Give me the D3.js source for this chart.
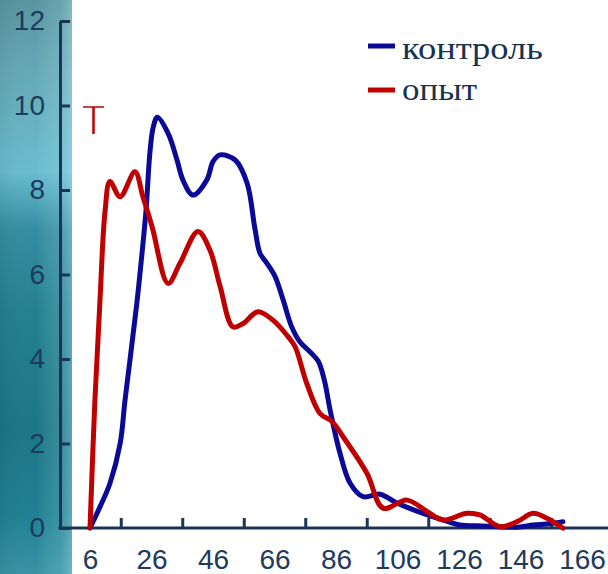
<!DOCTYPE html>
<html><head><meta charset="utf-8">
<script src="https://cdn.jsdelivr.net/npm/d3@7"></script>
<style>html,body{margin:0;padding:0;background:#fff;}svg{display:block;}</style>
</head><body>
<svg id="c" width="608" height="574"></svg>
<script>
// Data
const seriesNames = ["контроль", "опыт"];
const controlX = [6, 9.25, 12.5, 15.8, 17.4, 21.2, 22.8, 24.2, 25.5, 26.6, 27.9, 31.4, 34.3, 36.2, 39.5, 44.0, 46.0, 48.3, 53.2, 57.1, 59.6, 61.3, 63.5, 66.2, 68.8, 71.6, 74.3, 77.5, 80.2, 82.2, 84.2, 87.3, 90.6, 94.8, 100.3, 105.8, 112.3, 120.8, 126.3, 133.8, 144.9, 150.1, 155.6, 159.8];
const controlY = [0, 0.5, 1.06, 2.0, 3.03, 5.3, 6.42, 7.5, 8.9, 9.5, 9.72, 9.34, 8.71, 8.24, 7.88, 8.24, 8.67, 8.83, 8.71, 8.16, 7.1, 6.5, 6.27, 5.95, 5.4, 4.76, 4.4, 4.17, 3.95, 3.5, 2.75, 1.77, 1.06, 0.74, 0.8, 0.59, 0.4, 0.19, 0.07, 0.05, 0.02, 0.07, 0.1, 0.15];
const experimentX = [6, 7.6, 9.25, 10.9, 12.5, 15.8, 20.6, 23.2, 26.2, 31.4, 35.3, 41.1, 45.0, 48.3, 52.5, 55.8, 60.6, 65.5, 70.4, 72.7, 76.5, 80.8, 84.7, 88.3, 96.1, 101.3, 109.1, 115.6, 120.8, 128.6, 132.8, 139.3, 144.9, 150.1, 154.6, 159.8];
const experimentY = [0, 3.03, 5.4, 7.5, 8.2, 7.84, 8.43, 7.84, 7.13, 5.79, 6.27, 7.02, 6.58, 5.72, 4.76, 4.84, 5.12, 4.92, 4.53, 4.29, 3.42, 2.71, 2.52, 2.16, 1.29, 0.47, 0.66, 0.39, 0.19, 0.35, 0.31, 0.03, 0.15, 0.35, 0.23, 0];
const xLabels = [6, 26, 46, 66, 86, 106, 126, 146, 166];
const xTicks = [16, 36, 56, 76, 96, 116, 136, 156];
const yTicks = [0, 2, 4, 6, 8, 10, 12];
const colors = ["#0a0a96", "#c00000"];

const svg = d3.select("#c");
const defs = svg.append("defs");
const g1 = defs.append("linearGradient").attr("id","bgv").attr("x1",0).attr("y1",0).attr("x2",0).attr("y2",1);
[[0,"#57949f"],[0.12,"#64a8b6"],[0.3,"#68bccf"],[0.4,"#358d9f"],[0.55,"#22808f"],[0.75,"#1b7685"],[0.9,"#1f8192"],[1,"#3793a3"]]
  .forEach(([o,c])=>g1.append("stop").attr("offset",o).attr("stop-color",c));
const g2 = defs.append("linearGradient").attr("id","bgh").attr("x1",0).attr("y1",0).attr("x2",1).attr("y2",0);
[[0,"#000000",0.05],[0.5,"#ffffff",0.0],[0.85,"#bfeaf2",0.18],[1,"#d8f4f8",0.35]]
  .forEach(([o,c,a])=>g2.append("stop").attr("offset",o).attr("stop-color",c).attr("stop-opacity",a));

svg.append("rect").attr("x",0).attr("y",0).attr("width",72).attr("height",574).attr("fill","url(#bgv)");
svg.append("rect").attr("x",0).attr("y",0).attr("width",72).attr("height",574).attr("fill","url(#bgh)");

const x = d3.scaleLinear().domain([6,166]).range([90, 582]);
const y = d3.scaleLinear().domain([0,12]).range([528, 21]);
const axisColor = "#1b3556";

// y axis
const ya = svg.append("g").attr("transform","translate(60,0)")
  .call(d3.axisLeft(y).tickValues(yTicks).tickSizeInner(-10).tickSizeOuter(0).tickPadding(15).tickFormat(d3.format("d")));
ya.select(".domain").attr("stroke",axisColor).attr("stroke-width",3);
ya.selectAll(".tick line").attr("stroke",axisColor).attr("stroke-width",3);
ya.selectAll(".tick text").attr("fill","#1e3a5c").attr("font-family","Liberation Sans, Arial, sans-serif").attr("font-size",28);

// x axis line + ticks
const xa = svg.append("g").attr("transform","translate(0,528)")
  .call(d3.axisBottom(x).tickValues(xTicks).tickSizeInner(-10).tickSizeOuter(0).tickFormat(""));
xa.select(".domain").remove();
xa.selectAll(".tick line").attr("stroke",axisColor).attr("stroke-width",3);
svg.append("line").attr("x1",58.5).attr("x2",608).attr("y1",528).attr("y2",528).attr("stroke",axisColor).attr("stroke-width",3);

// x labels
const xl = svg.append("g").attr("transform","translate(0,527)")
  .call(d3.axisBottom(x).tickValues(xLabels).tickSize(0).tickPadding(22).tickFormat(d3.format("d")));
xl.select(".domain").remove();
xl.selectAll(".tick text").attr("fill","#1e3a5c").attr("font-family","Liberation Sans, Arial, sans-serif").attr("font-size",28);

// lines
const line = d3.line().x(d=>x(d[0])).y(d=>y(d[1])).curve(d3.curveCatmullRom.alpha(0.5));
const ctrl = controlX.map((v,i)=>[v,controlY[i]]);
const expt = experimentX.map((v,i)=>[v,experimentY[i]]);
svg.append("path").attr("d",line(ctrl)).attr("fill","none").attr("stroke",colors[0]).attr("stroke-width",5).attr("stroke-linejoin","round").attr("stroke-linecap","round");
svg.append("path").attr("d",line(expt)).attr("fill","none").attr("stroke",colors[1]).attr("stroke-width",5).attr("stroke-linejoin","round").attr("stroke-linecap","round");

// red T marker
svg.append("line").attr("x1",83).attr("x2",104).attr("y1",107).attr("y2",107).attr("stroke","#c00000").attr("stroke-width",1.5);
svg.append("line").attr("x1",93.5).attr("x2",93.5).attr("y1",107).attr("y2",134).attr("stroke","#c00000").attr("stroke-width",2.5);

// legend
const leg = svg.append("g");
seriesNames.forEach((n,i)=>{
  const ly = [46,90][i];
  leg.append("line").attr("x1",368).attr("x2",395).attr("y1",ly).attr("y2",ly).attr("stroke",colors[i]).attr("stroke-width",5);
  leg.append("text").attr("x",402).attr("y",[59,100][i]).text(n)
    .attr("textLength",[141,75][i]).attr("lengthAdjust","spacingAndGlyphs")
    .attr("font-family","Liberation Serif, Times New Roman, serif").attr("font-size",32).attr("fill","#17324f");
});
</script>
</body></html>
